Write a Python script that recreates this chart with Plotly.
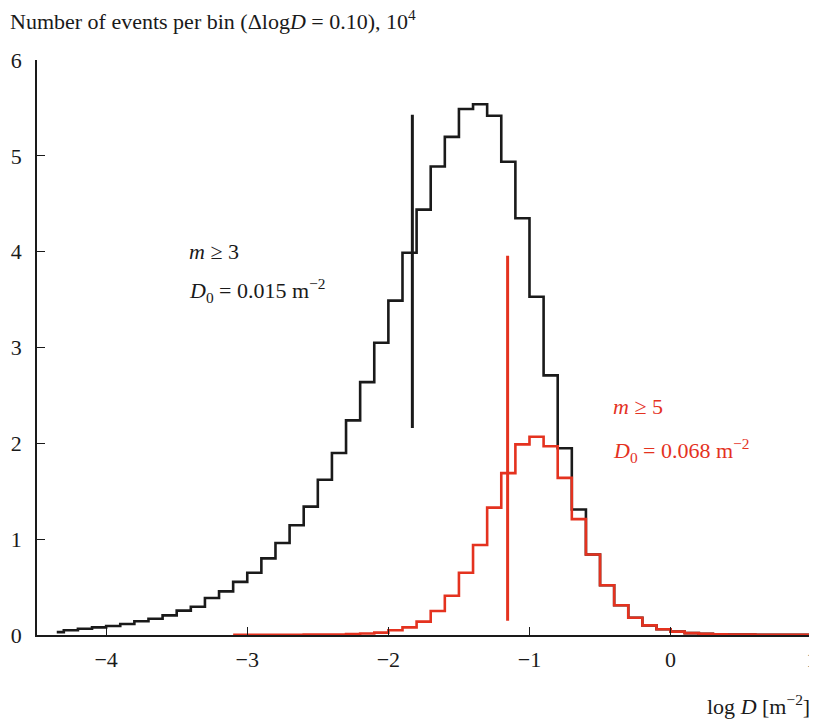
import numpy as np
import plotly.graph_objects as go

# ---- data ----
bin_width = 0.1
black_start = -4.35          # first (partial) bin edge
black_values = [0.03,
                0.05, 0.066, 0.08, 0.094, 0.115, 0.143, 0.17, 0.205, 0.254, 0.295,
                0.386, 0.455, 0.555, 0.65, 0.80, 0.96, 1.145, 1.34, 1.62, 1.90,
                2.24, 2.64, 3.05, 3.49, 3.99, 4.44, 4.89, 5.20, 5.49, 5.54,
                5.42, 4.94, 4.35, 3.53, 2.71, 1.95, 1.31, 0.84, 0.52, 0.31,
                0.18, 0.10, 0.06, 0.035, 0.02, 0.012, 0.008, 0.005, 0.004, 0.003,
                0.002, 0.002, 0.001]
red_start = -3.1
red_values = [0.002, 0.002, 0.002, 0.003, 0.003, 0.004, 0.005, 0.006,
              0.01, 0.015, 0.025, 0.05, 0.08, 0.14, 0.25, 0.41, 0.65, 0.94,
              1.33, 1.69, 1.99, 2.07, 1.97, 1.64, 1.21, 0.84, 0.52, 0.31,
              0.18, 0.10, 0.06, 0.035, 0.02, 0.012, 0.008, 0.005, 0.004, 0.003,
              0.002, 0.002, 0.001]
black_d0_x = -1.83
black_d0_y = [2.16, 5.43]
red_d0_x = -1.155
red_d0_y = [0.15, 3.96]
x_ticks = [-4, -3, -2, -1, 0, 1]
x_tick_labels = ["−4", "−3", "−2", "−1", "0", "1"]
y_ticks = [0, 1, 2, 3, 4, 5, 6]

BLACK = "#1a1a1a"
RED = "#e4321f"
FONT = "Liberation Serif"
FS = 22

def step_xy(start, values, first_partial=False):
    if first_partial:
        edges = [start] + list(np.round(np.arange(len(values)) * bin_width + round(start + 0.05, 2), 3))
    else:
        edges = list(np.round(np.arange(len(values) + 1) * bin_width + start, 3))
    ys = list(values) + [values[-1]]
    return edges, ys

bx, by = step_xy(black_start, black_values, first_partial=True)
rx, ry = step_xy(red_start, red_values)

fig = go.Figure()
fig.add_trace(go.Scatter(x=bx, y=by, mode="lines", line=dict(color=BLACK, width=2.6, shape="hv"),
                         hoverinfo="skip", showlegend=False, cliponaxis=False))
fig.add_trace(go.Scatter(x=[black_d0_x, black_d0_x], y=black_d0_y, mode="lines",
                         line=dict(color=BLACK, width=3), showlegend=False))
fig.add_trace(go.Scatter(x=rx, y=ry, mode="lines", line=dict(color=RED, width=2.6, shape="hv"),
                         hoverinfo="skip", showlegend=False, cliponaxis=False))
fig.add_trace(go.Scatter(x=[red_d0_x, red_d0_x], y=red_d0_y, mode="lines",
                         line=dict(color=RED, width=3), showlegend=False))

ann = [
    dict(text="<i>m</i> ≥ 3", x=-3.43, y=4.0, color=BLACK),
    dict(text="<i>D</i><sub>0</sub> = 0.015 m<sup>−2</sup>", x=-3.43, y=3.6, color=BLACK),
    dict(text="<i>m</i> ≥ 5", x=-0.42, y=2.38, color=RED),
    dict(text="<i>D</i><sub>0</sub> = 0.068 m<sup>−2</sup>", x=-0.42, y=1.93, color=RED),
]
for a in ann:
    fig.add_annotation(x=a["x"], y=a["y"], xref="x", yref="y", text=a["text"], showarrow=False,
                       xanchor="left", yanchor="middle",
                       font=dict(family=FONT, size=FS, color=a["color"]))

fig.add_annotation(x=-0.0374, y=1.069, xref="paper", yref="paper",
                   text="Number of events per bin (Δlog<i>D</i> = 0.10), 10<sup>4</sup>",
                   showarrow=False, xanchor="left", yanchor="middle",
                   font=dict(family=FONT, size=FS, color=BLACK))
fig.add_annotation(x=1.0, y=-0.122, xref="paper", yref="paper",
                   text="log <i>D</i> [m<sup>−2</sup>]", showarrow=False,
                   xanchor="right", yanchor="middle",
                   font=dict(family=FONT, size=FS, color=BLACK))

axis_common = dict(showline=True, linecolor=BLACK, linewidth=1.5, ticks="inside", ticklen=8,
                   tickwidth=1.3, tickcolor=BLACK, showgrid=False, zeroline=False,
                   tickfont=dict(family=FONT, size=FS, color=BLACK), mirror=False,
                   automargin=False, ticklabeloverflow="allow")
fig.update_xaxes(range=[-4.49, 1.002], tickvals=x_ticks, ticktext=x_tick_labels,
                 ticklabelstandoff=4, **axis_common)
fig.update_yaxes(range=[0, 6.002], tickvals=y_ticks, ticklabelstandoff=9, **axis_common)

# the page body adds an 8 px offset, so the figure is 8 px smaller to fit the window
fig.update_layout(width=809, height=711, margin=dict(l=29, r=5, t=52, b=84),
                  plot_bgcolor="white", paper_bgcolor="white", showlegend=False)

fig.write_html("out.html")
